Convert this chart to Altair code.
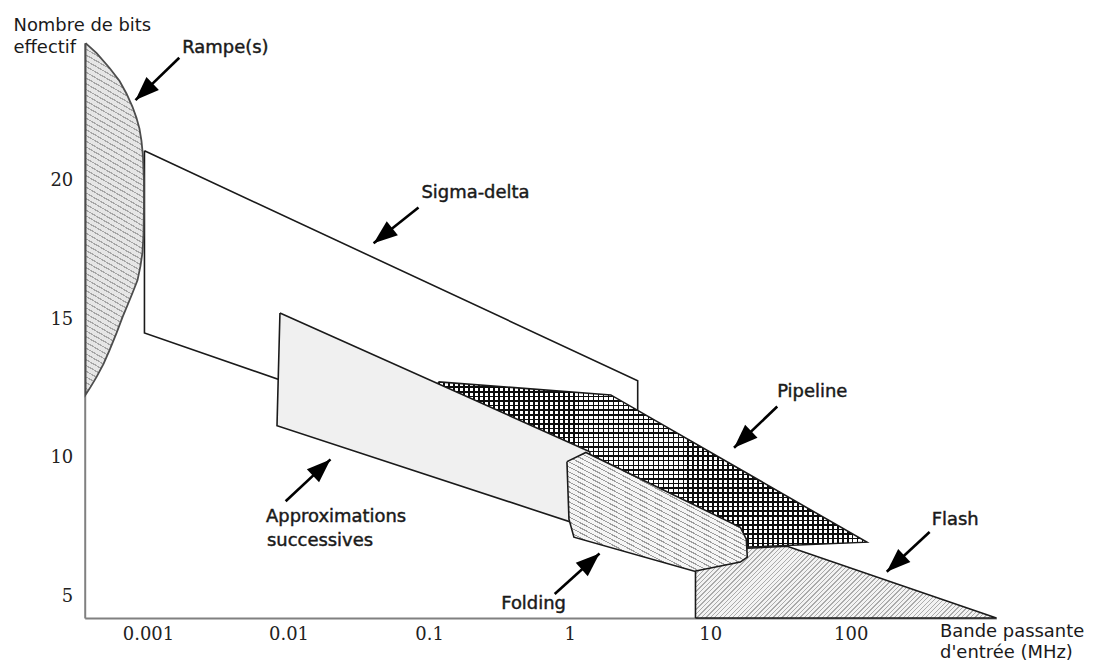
import math
import altair as alt
import pandas as pd

# ---------------- axis ranges / ticks ----------------
X_MIN, X_MAX = 10 ** -3.450, 10 ** 3.036
Y_MIN, Y_MAX = 4.212, 24.98
PLOT_W, PLOT_H = 915, 577

x_ticks = [0.001, 0.01, 0.1, 1, 10, 100]
y_ticks = [5, 10, 15, 20]

# ---------------- regions (bandwidth MHz, effective bits) ----------------
ramp_f = [3.6e-4, 4.31e-4, 5.33e-4, 6.28e-4, 7.04e-4, 7.76e-4, 8.28e-4, 8.70e-4,
          8.99e-4, 9.21e-4, 9.36e-4, 9.36e-4, 9.29e-4, 9.14e-4, 8.84e-4, 8.42e-4,
          7.76e-4, 7.15e-4, 6.59e-4, 5.98e-4, 5.33e-4, 4.83e-4, 4.31e-4, 3.91e-4,
          3.6e-4]
ramp_b = [24.98, 24.62, 24.08, 23.61, 23.15, 22.68, 22.28, 21.89,
          21.45, 20.91, 20.01, 18.93, 18.03, 17.42, 16.92, 16.41,
          15.95, 15.51, 15.08, 14.51, 13.89, 13.39, 12.92, 12.56,
          12.28]

sigma_f = [9.44e-4, 3.05, 3.05, 9.44e-4]
sigma_b = [21.09, 12.78, 8.32, 14.51]

flash_f = [7.86, 7.86, 18.37, 35.3, 1087]
flash_b = [4.212, 5.94, 6.73, 6.80, 4.212]

pipe_f = [0.1165, 1.963, 130.2, 18.37, 8.12, 1.393, 0.1165]
pipe_b = [12.74, 12.27, 6.95, 6.77, 7.42, 9.58, 12.60]

approx_f = [8.69e-3, 1.393, 1.393, 8.28e-3]
approx_b = [15.23, 10.22, 7.45, 11.16]

fold_f = [0.957, 1.305, 16.38, 18.07, 18.37, 16.38, 7.73, 1.073, 0.989]
fold_b = [9.86, 10.19, 7.49, 7.06, 6.41, 6.23, 5.90, 7.13, 7.78]

# ---------------- annotations ----------------
label_text = ["Rampe(s)", "Sigma-delta", "Pipeline", "Flash",
              "Approximations", "successives", "Folding"]
label_f = [1.755e-3, 0.0883, 29.98, 376.3, 6.92e-3, 7.03e-3, 0.326]
label_b = [24.80, 19.56, 12.36, 7.76, 7.85, 6.98, 4.70]

arrow_tail_f = [1.67e-3, 0.0841, 30.0, 364.0, 9.54e-3, 0.783]
arrow_tail_b = [24.45, 19.04, 11.85, 7.32, 8.43, 5.08]
arrow_tip_f = [8.15e-4, 0.0403, 14.78, 180.5, 0.01988, 1.632]
arrow_tip_b = [22.92, 17.75, 10.36, 5.88, 9.94, 6.54]

# ---------------- helpers ----------------
LX0, LX1 = math.log10(X_MIN), math.log10(X_MAX)


def to_px(f, b):
    x = PLOT_W * (math.log10(f) - LX0) / (LX1 - LX0)
    y = PLOT_H * (Y_MAX - b) / (Y_MAX - Y_MIN)
    return x, y


def heading(f0, b0, f1, b1):
    x0, y0 = to_px(f0, b0)
    x1, y1 = to_px(f1, b1)
    return math.degrees(math.atan2(x1 - x0, -(y1 - y0))) % 360


def hatch(fs, bs, normal_deg, period, line_w, line_color, gap_color):
    """Striped linear gradient (hatching) for a polygon's bounding box."""
    pts = [to_px(f, b) for f, b in zip(fs, bs)]
    xs = [p[0] for p in pts]
    ys = [p[1] for p in pts]
    W = max(max(xs) - min(xs), 1.0)
    H = max(max(ys) - min(ys), 1.0)
    nx = math.cos(math.radians(normal_deg))
    ny = math.sin(math.radians(normal_deg))
    D = W * abs(nx) + H * abs(ny)
    c = D / (W * W * nx * nx + H * H * ny * ny)
    u0 = 0.0 if nx >= 0 else 1.0
    v0 = 0.0 if ny >= 0 else 1.0
    x2 = u0 + W * nx * c
    y2 = v0 + H * ny * c
    n = max(int(round(D / period)), 1)
    frac = line_w / period
    stops = []
    for k in range(n):
        a = k / n
        m = min((k + frac) / n, 1.0)
        e = min((k + 1) / n, 1.0)
        stops += [
            alt.GradientStop(offset=a, color=line_color),
            alt.GradientStop(offset=m, color=line_color),
            alt.GradientStop(offset=m, color=gap_color),
            alt.GradientStop(offset=e, color=gap_color),
        ]
    return alt.LinearGradient(gradient="linear", stops=stops,
                              x1=u0, y1=v0, x2=x2, y2=y2)


x_scale = alt.Scale(type="log", domain=[X_MIN, X_MAX], nice=False)
y_scale = alt.Scale(domain=[Y_MIN, Y_MAX], nice=False, zero=False)

x_axis = alt.Axis(
    values=x_ticks, format=".3~f", ticks=False, grid=False,
    labelFont="DejaVu Serif", labelFontSize=18, labelColor="#222222",
    labelPadding=8, labelOverlap=False, labelFlush=False,
    domainColor="#808080", domainWidth=2,
    title=["Bande passante", "d'entrée (MHz)"],
    titleFont="DejaVu Sans", titleFontSize=18, titleFontWeight="normal",
    titleColor="#1a1a1a", titleAlign="left", titleBaseline="alphabetic",
    titleX=858, titleY=19, titleLineHeight=21,
)
y_axis = alt.Axis(
    values=y_ticks, format="d", ticks=False, grid=False,
    labelFont="DejaVu Serif", labelFontSize=18, labelColor="#222222",
    labelPadding=12, labelOverlap=False, labelFlush=False,
    domainColor="#808080", domainWidth=2,
    title=["Nombre de bits", "effectif"], titleAngle=0,
    titleFont="DejaVu Sans", titleFontSize=18, titleFontWeight="normal",
    titleColor="#1a1a1a", titleAlign="left", titleBaseline="alphabetic",
    titleX=-72, titleY=-13, titleLineHeight=22,
)

X = alt.X("f:Q", scale=x_scale, axis=x_axis)
Y = alt.Y("b:Q", scale=y_scale, axis=y_axis)


def polygon(fs, bs, fill, stroke="#1a1a1a", width=1.6):
    fs = list(fs) + [fs[0]]
    bs = list(bs) + [bs[0]]
    df = pd.DataFrame({"f": fs, "b": bs, "i": list(range(len(fs)))})
    kw = dict(fill=fill, strokeJoin="miter", interpolate="linear", clip=False)
    if stroke:
        kw.update(stroke=stroke, strokeWidth=width)
    else:
        kw.update(strokeWidth=0)
    return alt.Chart(df).mark_line(**kw).encode(x=X, y=Y, order=alt.Order("i:Q"))


sigma = polygon(sigma_f, sigma_b, "#ffffff")
flash = polygon(flash_f, flash_b,
                hatch(flash_f, flash_b, 45, 3.2, 1.0, "#ababab", "#f3f3f3"))
pipe_v = polygon(pipe_f, pipe_b,
                 hatch(pipe_f, pipe_b, 0, 5.0, 1.6, "#0d0d0d", "#ffffff"),
                 stroke=None)
pipe_h = polygon(pipe_f, pipe_b,
                 hatch(pipe_f, pipe_b, 90, 4.6, 1.5, "#0d0d0d", "rgba(255,255,255,0)"))
approx = polygon(approx_f, approx_b, "#f0f0f0")
fold = polygon(fold_f, fold_b,
               hatch(fold_f, fold_b, -62, 4.4, 1.1, "#9c9c9c", "#f5f5f5"))
ramp = polygon(ramp_f, ramp_b,
               hatch(ramp_f, ramp_b, -60, 5.0, 1.2, "#a6a6a6", "#e6e6e6"),
               stroke="#4d4d4d", width=1.8)

arrows_df = pd.DataFrame({
    "f": arrow_tail_f, "b": arrow_tail_b,
    "f2": arrow_tip_f, "b2": arrow_tip_b,
})
heads_df = pd.DataFrame({
    "f": arrow_tip_f, "b": arrow_tip_b,
    "ang": [heading(a, b, c, d) for a, b, c, d in
            zip(arrow_tail_f, arrow_tail_b, arrow_tip_f, arrow_tip_b)],
})

shafts = alt.Chart(arrows_df).mark_rule(
    color="#000000", strokeWidth=2.6
).encode(x=X, y=Y, x2="f2:Q", y2="b2:Q")

heads = alt.Chart(heads_df).mark_point(
    shape="M0,0L-0.375,1L0.375,1Z", size=2304, filled=True,
    color="#000000", opacity=1, strokeWidth=0,
).encode(x=X, y=Y, angle=alt.Angle("ang:Q", scale=None))

labels_df = pd.DataFrame({"f": label_f, "b": label_b, "t": label_text})
labels = alt.Chart(labels_df).mark_text(
    align="left", baseline="middle", font="DejaVu Sans", fontSize=18,
    color="#1a1a1a", stroke="#1a1a1a", strokeWidth=0.45,
).encode(x=X, y=Y, text="t:N")

chart = alt.layer(
    sigma, flash, pipe_v, pipe_h, approx, fold, ramp, shafts, heads, labels
).properties(
    width=PLOT_W, height=PLOT_H,
    autosize=alt.AutoSizeParams(type="none"),
    padding={"left": 77, "top": 34, "right": 95, "bottom": 48},
).configure_view(strokeWidth=0)

chart.save("out.html", embed_options={"renderer": "svg", "actions": False})
